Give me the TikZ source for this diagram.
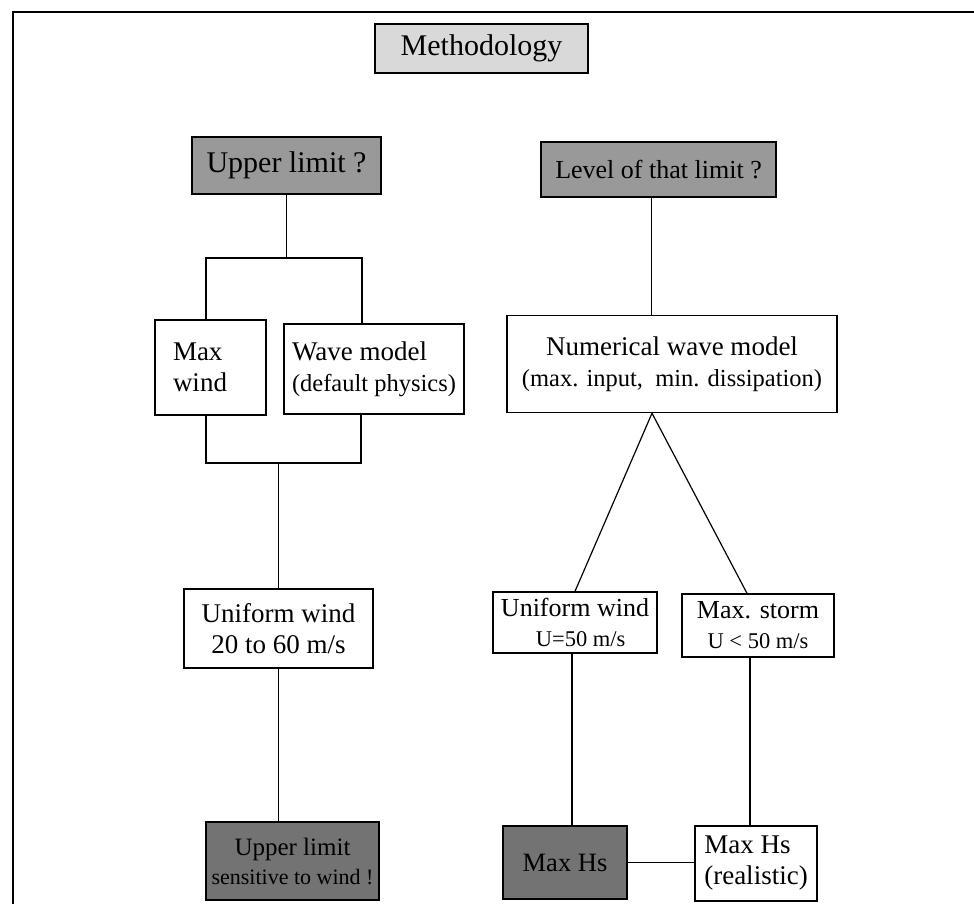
\documentclass[tikz,border=0pt]{standalone}
\usepackage{fontspec}
\setmainfont{Liberation Serif}

\begin{document}
\begin{tikzpicture}[x=1pt,y=-1pt,
  box/.style={draw, line width=1.4pt, inner sep=0pt, align=center,
    font=\fontsize{27}{31}\selectfont},
  title/.style={box, fill=black!15},
  question/.style={box, fill=black!40},
  result/.style={box, fill=black!55},
  link/.style={line width=1.2pt}]
\useasboundingbox (0,0) rectangle (974,904);
% frame
\draw[line width=2.5pt] (974,12) -- (13,12) -- (13,904);

\node[title, minimum width=213pt, minimum height=49pt, font=\fontsize{30}{34}\selectfont] (method) at (481.5,48.5) {Methodology};
\node[question, minimum width=189pt, minimum height=57pt, font=\fontsize{30}{34}\selectfont] (upper) at (286.5,165.5) {Upper limit ?};
\node[question, minimum width=235pt, minimum height=55pt, font=\fontsize{26}{30}\selectfont] (level) at (658.5,169.5) {Level of that limit ?};

\node[box, minimum width=111pt, minimum height=95pt, text width=75pt, align=left] (maxwind) at (210.5,367.5) {Max\\wind};
\node[box, minimum width=180pt, minimum height=90pt, align=left] (wavemodel) at (374,369) {Wave model\\{\fontsize{24.5}{28}\selectfont(default physics)}};
\node[box, minimum width=330pt, minimum height=97pt] (numerical) at (672,364) {Numerical wave model\\{\fontsize{24.5}{28}\selectfont(max. input,\ \ min. dissipation)}};

\node[box, minimum width=189pt, minimum height=79pt] (unifL) at (278.5,628.5) {Uniform wind\\20 to 60 m/s};
\node[box, minimum width=164pt, minimum height=61pt, font=\fontsize{26}{30}\selectfont] (unifR) at (575,622.5) {Uniform wind\\{\fontsize{22.5}{26}\selectfont\ \ U=50 m/s}};
\node[box, minimum width=152pt, minimum height=63pt, font=\fontsize{26}{30}\selectfont] (storm) at (758,625.5) {Max. storm\\{\fontsize{22.5}{26}\selectfont U < 50 m/s}};

\node[result, minimum width=173pt, minimum height=78pt, font=\fontsize{25}{29}\selectfont] (limitL) at (292.5,861) {Upper limit\\{\fontsize{22}{26}\selectfont sensitive to wind !}};
\node[result, minimum width=124pt, minimum height=73pt, font=\fontsize{26.5}{30}\selectfont] (maxhs) at (565,862.5) {Max Hs};
\node[box, minimum width=122pt, minimum height=75pt, align=left] (realistic) at (756,863.5) {Max Hs\\(realistic)};

% bracket corners
\coordinate (Ta) at (206,258);
\coordinate (Tb) at (362,258);
\coordinate (Ba) at (206,463);
\coordinate (Bb) at (361,463);

\draw[link] (upper.south) -- (upper.south |- Ta);
\draw[link] (maxwind.north -| Ta) |- (Tb) -- (wavemodel.north -| Tb);
\draw[link] (maxwind.south -| Ba) |- (Bb) -- (wavemodel.south -| Bb);
\draw[link] (unifL.north |- Ba) -- (unifL.north);
\draw[link] (unifL.south) -- (unifL.south |- limitL.north);

\draw[link] ([xshift=-7pt]level.south) -- ([xshift=-7pt]level.south |- numerical.north);
\draw[link] (unifR.north) -- ([xshift=-20pt]numerical.south) -- ([xshift=-11pt]storm.north);
\draw[link] ([xshift=-3pt]unifR.south) -- ([xshift=-3pt]unifR.south |- maxhs.north);
\draw[link] ([xshift=-8pt]storm.south) -- ([xshift=-8pt]storm.south |- realistic.north);
\draw[link] (maxhs.east) -- (maxhs.east -| realistic.west);
\end{tikzpicture}
\end{document}
